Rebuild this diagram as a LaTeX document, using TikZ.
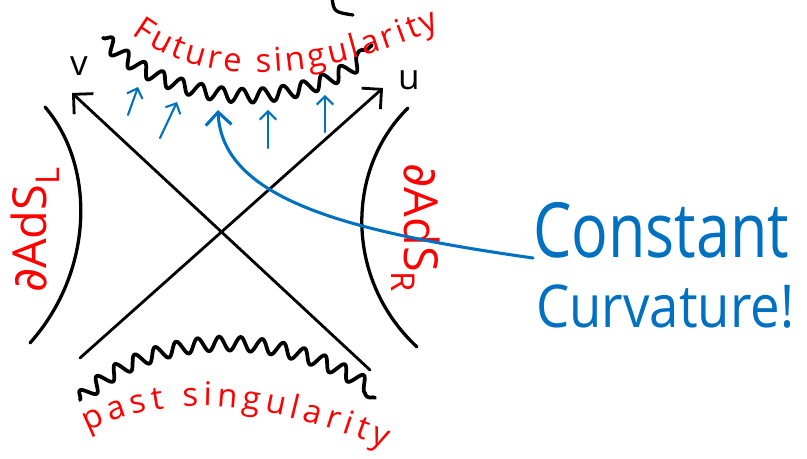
\documentclass[tikz,border=0pt]{standalone}
\usepackage{fontspec}
\setmainfont{Open Sans}
\newfontfamily\symfont{DejaVu Sans}
\usepackage{tikz}
\usetikzlibrary{arrows.meta, decorations.pathmorphing, decorations.text}

\definecolor{inkred}{RGB}{255,0,0}
\definecolor{inkblue}{RGB}{0,112,192}

\tikzset{
  pen/.style={line width=2.4pt, line cap=round, black},
  rim/.style={line width=2.8pt, line cap=round, black},
  nullray/.style={pen, -{Straight Barb[length=12pt, width=24pt, line width=2.4pt]}},
  wiggle/.style={line width=3.2pt, line cap=round, line join=round, decorate,
    decoration={snake, segment length=18pt, amplitude=6pt}},
  bluearrow/.style={line width=1.8pt, inkblue, line cap=round,
    -{Straight Barb[length=7pt, width=14pt, line width=1.8pt]}},
  bigarrow/.style={line width=2.6pt, inkblue, line cap=round,
    -{Straight Barb[length=11pt, width=22pt, line width=2.6pt]}},
  bdry/.style={inkred, font=\fontsize{40}{44}\selectfont, inner sep=0pt},
  coordlabel/.style={black, font=\fontsize{30}{34}\selectfont, inner sep=0pt},
  note/.style={inkblue, inner sep=0pt, anchor=base west},
}

\begin{document}
\begin{tikzpicture}[x=0.03cm, y=-0.03cm]
  \useasboundingbox (0,0) rectangle (807,459);

  % horizons
  \coordinate (vtip) at (72,93);
  \coordinate (utip) at (383,88);
  \coordinate (vfoot) at (370,370);
  \coordinate (ufoot) at (80,358);
  \draw[nullray] (vfoot) -- (vtip);
  \draw[nullray] (ufoot) -- (utip);
  \node[coordlabel] (v) at (79,66) {v};
  \node[coordlabel] (u) at (409,80) {u};

  % asymptotic boundaries
  \draw[rim] (45,107) .. controls (95,165) and (95,270) .. (30,343);
  \draw[rim] (408,108) .. controls (345,170) and (345,280) .. (417,347);
  \node[bdry, rotate=90] (adsl) at (35,230) {{\symfont ∂}AdS\textsubscript{L}};
  \node[bdry, rotate=-90] (adsr) at (416,228) {{\symfont ∂}AdS\textsubscript{R}};

  % singularities
  \draw[wiggle] (103,38) .. controls (170,105) and (300,112) .. (372,45);
  \draw[wiggle] (80,400) .. controls (150,330) and (290,330) .. (375,398);
  \path[decorate, decoration={text along path, text align={fit to path},
    text={|\fontsize{28}{32}\selectfont\color{inkred}|Future singularity}}]
    (132,34) .. controls (200,84) and (300,88) .. (440,28);
  \path[decorate, decoration={text along path, text align={fit to path},
    text={|\fontsize{28}{32}\selectfont\color{inkred}|past singularity}}]
    (88,432) .. controls (150,402) and (230,387) .. (385,448);

  % stray stroke at the top
  \draw[rim] (332,-2) .. controls (334,12) .. (353,15);

  % constant curvature
  \node[note, font=\fontsize{52}{56}\selectfont, yscale=1.25] (const) at (533,258) {Constant};
  \node[note, font=\fontsize{45}{50}\selectfont, yscale=1.12] (curv) at (536,328) {Curvature!};
  \coordinate (hit) at (218,110);
  \draw[bigarrow] (const.base west) .. controls (350,232) and (222,200) .. (hit);
  \draw[bluearrow] (128,115) -- (138,87);
  \draw[bluearrow] (160,138) -- (177,102);
  \draw[bluearrow] (268,148) -- (268,110);
  \draw[bluearrow] (325,132) -- (325,95);
\end{tikzpicture}
\end{document}
